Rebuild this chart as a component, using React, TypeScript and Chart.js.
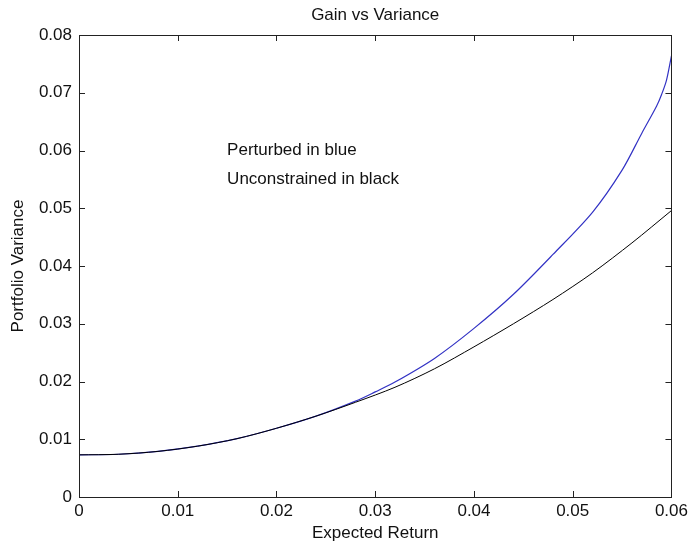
import React, { useEffect, useRef } from "react";
import { Chart, registerables } from "chart.js";

Chart.register(...registerables);

const title = "Gain vs Variance";
const xTitle = "Expected Return";
const yTitle = "Portfolio Variance";
const notes = ["Perturbed in blue", "Unconstrained in black"];

const blackReturn = [0, 0.004, 0.008, 0.012, 0.016, 0.02, 0.024, 0.028, 0.032, 0.036, 0.04, 0.044, 0.048, 0.052, 0.056, 0.06];
const blackVariance = [0.0073, 0.0074, 0.0079, 0.0088, 0.0101, 0.0119, 0.014, 0.0164, 0.019, 0.0222, 0.026, 0.03, 0.0342, 0.0388, 0.044, 0.0496];

const blueReturn = [0, 0.004, 0.008, 0.012, 0.016, 0.02, 0.024, 0.028, 0.03, 0.032, 0.036, 0.04, 0.044, 0.048, 0.052, 0.055, 0.057, 0.0585, 0.059, 0.0595, 0.06];
const blueVariance = [0.0073, 0.0074, 0.0079, 0.0088, 0.0101, 0.0119, 0.014, 0.0166, 0.0182, 0.0199, 0.024, 0.0292, 0.0351, 0.042, 0.0493, 0.0566, 0.063, 0.0677, 0.0697, 0.0722, 0.0764];

const xTicks = [0, 0.01, 0.02, 0.03, 0.04, 0.05, 0.06];
const yTicks = [0, 0.01, 0.02, 0.03, 0.04, 0.05, 0.06, 0.07, 0.08];

const FONT = "'Liberation Sans', Arial, Helvetica, sans-serif";

const fmt = (v: number) => (Math.abs(v) < 1e-12 ? "0" : v.toFixed(2));

const decor = {
  id: "decor",
  afterDraw(chart: any) {
    const { ctx, chartArea: a, scales } = chart;
    const xs = scales.x;
    const ys = scales.y;
    ctx.save();
    ctx.strokeStyle = "#222";
    ctx.lineWidth = 1;
    ctx.strokeRect(Math.round(a.left) + 0.5, Math.round(a.top) + 0.5, Math.round(a.right - a.left), Math.round(a.bottom - a.top));
    const tl = 6;
    ctx.beginPath();
    xTicks.forEach((t) => {
      const px = Math.round(xs.getPixelForValue(t)) + 0.5;
      ctx.moveTo(px, a.bottom);
      ctx.lineTo(px, a.bottom - tl);
      ctx.moveTo(px, a.top);
      ctx.lineTo(px, a.top + tl);
    });
    yTicks.forEach((t) => {
      const py = Math.round(ys.getPixelForValue(t)) + 0.5;
      ctx.moveTo(a.left, py);
      ctx.lineTo(a.left + tl, py);
      ctx.moveTo(a.right, py);
      ctx.lineTo(a.right - tl, py);
    });
    ctx.stroke();

    ctx.fillStyle = "#111";
    ctx.font = `17px ${FONT}`;
    ctx.textAlign = "center";
    ctx.textBaseline = "middle";
    ctx.fillText(title, (a.left + a.right) / 2, 15);
    ctx.fillText(xTitle, (a.left + a.right) / 2, 533);
    ctx.save();
    ctx.translate(18, (a.top + a.bottom) / 2);
    ctx.rotate(-Math.PI / 2);
    ctx.fillText(yTitle, 0, 0);
    ctx.restore();

    ctx.textAlign = "left";
    ctx.fillText(notes[0], xs.getPixelForValue(0.015), ys.getPixelForValue(0.06));
    ctx.fillText(notes[1], xs.getPixelForValue(0.015), ys.getPixelForValue(0.055));
    ctx.restore();
  },
};

export default function App() {
  const ref = useRef<HTMLCanvasElement>(null);
  useEffect(() => {
    document.body.style.margin = "0";
    const canvas = ref.current!;
    const chart = new Chart(canvas, {
      type: "line",
      data: {
        datasets: [
          {
            label: "Unconstrained",
            data: blackReturn.map((x, i) => ({ x, y: blackVariance[i] })),
            borderColor: "#000000",
            borderWidth: 1,
            pointRadius: 0,
            tension: 0.3,
            fill: false,
          },
          {
            label: "Perturbed",
            data: blueReturn.map((x, i) => ({ x, y: blueVariance[i] })),
            borderColor: "#3232c4",
            borderWidth: 1.2,
            pointRadius: 0,
            tension: 0.3,
            fill: false,
          },
        ],
      },
      options: {
        animation: false,
        responsive: false,
        maintainAspectRatio: false,
        layout: { padding: { top: 35, right: 19, left: 0, bottom: 0 } },
        plugins: { legend: { display: false }, tooltip: { enabled: false }, title: { display: false } },
        scales: {
          x: {
            type: "linear",
            min: 0,
            max: 0.06,
            afterFit: (s: any) => {
              s.height = 53;
            },
            afterBuildTicks: (s: any) => {
              s.ticks = xTicks.map((v) => ({ value: v }));
            },
            grid: { display: false, drawTicks: false },
            border: { display: false },
            ticks: {
              padding: 4,
              color: "#111",
              font: { family: FONT, size: 17 },
              callback: (v: any) => fmt(Number(v)),
              maxRotation: 0,
              autoSkip: false,
            },
          },
          y: {
            type: "linear",
            min: 0,
            max: 0.08,
            afterFit: (s: any) => {
              s.width = 79;
            },
            afterBuildTicks: (s: any) => {
              s.ticks = yTicks.map((v) => ({ value: v }));
            },
            grid: { display: false, drawTicks: false },
            border: { display: false },
            ticks: {
              padding: 7,
              color: "#111",
              font: { family: FONT, size: 17 },
              callback: (v: any) => fmt(Number(v)),
              autoSkip: false,
            },
          },
        },
      },
      plugins: [decor],
    } as any);
    return () => chart.destroy();
  }, []);
  return <canvas ref={ref} width={692} height={550} style={{ display: "block", width: 692, height: 550 }} />;
}
